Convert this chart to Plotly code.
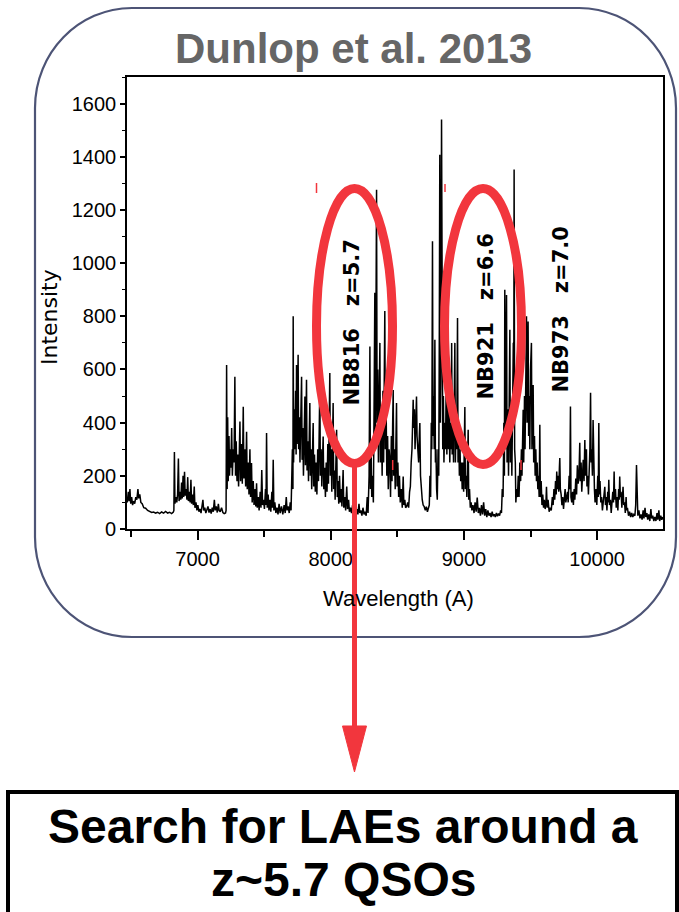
import plotly.graph_objects as go

# ---------------- data ----------------
# Sky emission spectrum: (wavelength [A], intensity)
seg_6500 = [(6472,100),(6480,140),(6486,105),(6492,150),(6498,95),(6505,120),(6512,90),(6520,105),(6528,95),(6536,120),
            (6544,110),(6552,150),(6558,115),(6566,130),(6574,100),(6584,95),(6596,80),(6610,78),(6625,70),(6640,66),
            (6655,62),(6670,64),(6685,60),(6700,63),(6715,58),(6730,64),(6745,60),(6760,66),(6775,60),(6790,63),
            (6805,58),(6818,64)]
seg_6900 = [(6822,70),(6826,290),(6830,95),(6838,120),(6844,100),(6850,130),(6856,265),(6861,105),(6868,140),(6874,110),
            (6880,175),(6885,115),(6891,200),(6896,120),(6902,215),(6907,125),(6914,150),(6920,110),(6926,195),(6931,105),
            (6938,140),(6944,100),(6950,185),(6955,95),(6962,130),(6968,90),(6975,160),(6980,80),(6988,100),(6995,70),
            (7002,90),(7010,65),(7018,75),(7026,60),(7034,85),(7040,110),(7046,70),(7054,80),(7062,60),(7070,70),
            (7078,85),(7086,62),(7094,75),(7102,58),(7110,80),(7118,65),(7126,110),(7132,70),(7140,85),(7148,62),
            (7156,95),(7162,70),(7170,65),(7180,80),(7190,62),(7200,58),(7210,60),(7214,70)]
seg_7400 = [(7218,617),(7222,150),(7226,420),(7230,180),(7236,350),(7240,200),(7246,300),(7250,230),(7256,380),(7261,200),
            (7268,300),(7274,250),(7280,573),(7285,200),(7290,330),(7296,180),(7302,280),(7308,160),(7318,404),(7323,180),
            (7330,320),(7336,170),(7343,460),(7348,190),(7355,300),(7361,160),(7368,366),(7373,150),(7380,250),(7386,130),
            (7393,300),(7398,120),(7405,248),(7410,100),(7418,180),(7424,90),(7432,150),(7437,85),(7443,172),(7448,80),
            (7456,120),(7462,70),(7470,140),(7476,80),(7482,222),(7488,90),(7496,110),(7502,75),(7510,150),(7514,90),
            (7518,361),(7523,80),(7530,130),(7536,70),(7544,110),(7550,65),(7558,140),(7563,80),(7568,260),(7573,70),
            (7580,100),(7588,60),(7596,80),(7604,55),(7612,95),(7620,60),(7630,85),(7640,55),(7650,90),(7658,60),
            (7666,120),(7672,70),(7680,85),(7688,60),(7696,100),(7702,70),(7708,200)]
seg_7900 = [(7712,300),(7716,150),(7718,800),(7721,250),(7726,450),(7731,300),(7736,520),(7740,280),(7743,617),(7747,320),
            (7751,480),(7755,655),(7759,300),(7764,420),(7769,250),(7775,500),(7781,573),(7785,260),(7790,380),(7795,200),
            (7800,430),(7806,498),(7810,240),(7814,380),(7818,561),(7822,220),(7828,330),(7833,180),(7838,400),(7843,474),
            (7847,200),(7852,300),(7857,150),(7862,330),(7868,399),(7872,160),(7878,280),(7884,140),(7890,250),(7896,130),
            (7902,300),(7908,180),(7913,420),(7918,536),(7922,200),(7928,300),(7933,160),(7938,260),(7943,348),(7948,150),
            (7954,230),(7960,120),(7966,250),(7972,140),(7978,320),(7983,170),(7988,380),(7993,587),(7997,200),(8003,300),
            (8008,140),(8013,350),(8018,474),(8022,150),(8028,220),(8033,110),(8039,260),(8044,373),(8049,120),(8055,180),
            (8060,95),(8066,200),(8072,100),(8078,150),(8084,85),(8093,222),(8098,80),(8105,120),(8112,70),(8120,160),
            (8126,75),(8134,110),(8140,65)]
seg_8200 = [(8148,80),(8156,60),(8164,90),(8172,55),(8180,70),(8188,50),(8196,75),(8204,55),(8212,95),(8218,60),
            (8226,70),(8234,50),(8242,80),(8250,55),(8258,65),(8266,50),(8274,120),(8280,60),(8288,200)]
seg_8400 = [(8294,686),(8298,150),(8303,300),(8308,120),(8314,200),(8320,100),(8326,500),(8331,889),(8335,300),(8340,800),
            (8344,1276),(8348,400),(8353,600),(8358,250),(8363,500),(8369,700),(8373,250),(8380,400),(8386,200),(8392,520),
            (8397,250),(8402,600),(8406,820),(8410,300),(8416,450),(8421,200),(8427,350),(8432,150),(8438,300),(8444,260),
            (8449,120),(8455,350),(8460,180),(8465,400),(8469,523),(8473,200),(8479,300),(8484,150),(8490,380),(8494,474),
            (8498,160),(8504,250),(8510,120),(8516,200),(8522,100),(8530,150),(8537,80),(8544,197),(8549,90),(8556,110),
            (8562,80)]
seg_8650 = [(8570,85),(8578,100),(8585,80),(8592,140),(8598,160),(8604,250),(8610,300),(8616,420),(8619,486),(8623,380),
            (8628,450),(8633,300),(8638,420),(8644,498),(8648,350),(8654,300),(8660,250),(8665,350),(8669,399),(8674,200),
            (8680,150),(8687,110),(8694,90),(8702,84),(8710,70),(8718,84),(8726,65),(8734,80),(8740,90),(8745,200),
            (8750,120),(8755,400)]
seg_8900 = [(8759,300),(8764,1082),(8768,350),(8772,500),(8777,300),(8782,712),(8786,250),(8790,300),(8795,150),(8800,110),
            (8806,300),(8811,200),(8815,700),(8819,1408),(8823,400),(8827,600),(8832,1540),(8836,400),(8841,300),(8846,500),
            (8850,250),(8856,400),(8862,300),(8867,550),(8872,280),(8876,480),(8880,798),(8884,300),(8889,450),(8894,250),
            (8899,400),(8904,300),(8908,700),(8912,280),(8918,400),(8922,250),(8927,500),(8932,700),(8936,250),(8941,400),
            (8946,300),(8952,794),(8956,250),(8961,350),(8966,200),(8971,300),(8976,180),(8982,250),(8987,150),(8993,250),
            (8998,140),(9003,300),(9007,459),(9011,150),(9017,200),(9022,120),(9027,250),(9032,373),(9036,110),(9042,150),
            (9048,80),(9054,100)]
seg_9150 = [(9060,70),(9068,90),(9076,60),(9084,100),(9092,65),(9100,118),(9108,60),(9116,80),(9124,50),(9132,90),
            (9140,55),(9148,100),(9156,50),(9164,75),(9172,45),(9180,70),(9188,50),(9196,60),(9204,45),(9212,65),
            (9220,48),(9228,55),(9236,45),(9244,60),(9252,48),(9260,58),(9268,50),(9276,70),(9282,60),(9288,150),
            (9294,120)]
seg_9450 = [(9300,400),(9304,200),(9307,900),(9311,300),(9316,500),(9320,880),(9324,250),(9330,450),(9335,200),(9340,500),
            (9345,749),(9349,250),(9355,400),(9360,200),(9366,500),(9371,700),(9374,400),(9377,1352),(9381,300),(9386,250),
            (9390,100),(9396,150),(9402,120),(9408,200),(9414,120),(9420,250),(9426,180),(9432,300),(9436,200),(9440,350),
            (9445,448),(9449,250),(9455,500),(9459,300),(9465,600),(9470,800),(9474,400),(9478,500),(9482,780),(9486,350),
            (9491,500),(9495,300),(9500,600),(9507,700),(9511,300),(9515,450),(9520,542),(9524,250),(9530,350),(9535,200),
            (9540,300),(9545,180),(9550,250),(9555,150),(9560,200),(9565,120),(9570,392),(9574,120),(9580,180),(9586,90),
            (9592,130),(9598,80),(9604,110),(9610,75),(9616,100),(9620,159),(9625,80),(9632,110),(9640,65),(9648,80)]
seg_9800 = [(9656,70),(9664,120),(9670,90),(9676,150),(9682,110),(9688,180),(9693,130),(9697,216),(9702,150),(9708,200),
            (9712,140),(9717,230),(9720,267),(9724,150),(9730,130),(9736,90),(9742,120),(9748,75),(9755,130),(9760,150),
            (9765,100),(9772,120),(9778,140),(9783,100),(9790,200),(9795,150),(9800,461),(9804,120),(9810,100),(9816,140),
            (9822,90),(9828,150),(9833,110),(9840,190),(9846,130),(9852,240),(9858,170),(9864,200),(9870,324),(9874,180),
            (9880,250),(9885,140),(9890,200),(9896,260),(9902,180),(9908,335),(9912,200),(9916,260),(9920,300),(9924,160),
            (9930,200),(9935,130),(9940,220),(9946,300),(9951,512),(9955,250),(9960,300),(9965,200),(9970,410),(9974,180),
            (9980,150),(9985,100),(9992,150),(9998,90)]
seg_10200 = [(10005,200),(10009,120),(10013,399),(10017,130),(10022,180),(10028,100),(10034,120),(10040,70),(10046,100),(10052,130),
             (10058,159),(10063,90),(10068,120),(10074,70),(10080,140),(10084,100),(10088,185),(10093,90),(10100,110),(10106,60),
             (10112,110),(10118,140),(10123,100),(10128,216),(10132,110),(10138,150),(10144,80),(10150,120),(10156,70),(10162,150),
             (10166,110),(10170,197),(10175,120),(10180,140),(10186,80),(10192,130),(10195,159),(10200,90),(10206,100),(10212,60),
             (10218,120),(10222,70),(10228,80),(10236,50),(10244,65),(10252,45),(10260,60),(10268,45),(10276,55),(10284,50),
             (10290,90),(10296,241),(10300,80),(10306,50),(10314,70),(10322,40),(10330,55),(10338,35),(10346,70),(10352,40),
             (10360,80),(10366,45),(10374,60),(10380,35),(10388,55),(10396,30),(10404,75),(10410,40),(10418,50),(10426,30),
             (10434,45),(10442,30),(10450,60),(10456,35),(10464,70),(10470,30),(10478,50),(10486,35),(10494,45)]

segments = [seg_6500, seg_6900, seg_7400, seg_7900, seg_8200, seg_8400, seg_8650,
            seg_8900, seg_9150, seg_9450, seg_9800, seg_10200]
wavelength = [p[0] for s in segments for p in s]
intensity = [p[1] for s in segments for p in s]

x_range = [6470, 10495]
y_range = [0, 1700]
x_tickvals = [7000, 8000, 9000, 10000]
y_tickvals = [0, 200, 400, 600, 800, 1000, 1200, 1400, 1600]

filter_labels = ["NB816\u00a0\u00a0\u00a0z=5.7", "NB921\u00a0\u00a0\u00a0z=6.6", "NB973\u00a0\u00a0\u00a0z=7.0"]
title_text = "Dunlop et al. 2013"
box_lines = ["Search for LAEs around a", "z~5.7 QSOs"]

# ---------------- layout helpers ----------------
W, H = 679, 912
PL, PR, PT, PB = 127, 663, 77, 529   # plot area in pixels
RED = "#f2363d"
FRAME = "#4d5476"


def xp(px):
    return (px - PL) / (PR - PL)


def yp(py):
    return (PB - py) / (PB - PT)


def P(px, py):
    return f"{xp(px):.5f},{yp(py):.5f}"


def rounded_rect_path(x0, y0, x1, y1, rx, ry):
    k = 0.5523
    return (f"M {P(x0 + rx, y0)} L {P(x1 - rx, y0)} "
            f"C {P(x1 - rx + rx * k, y0)} {P(x1, y0 + ry - ry * k)} {P(x1, y0 + ry)} "
            f"L {P(x1, y1 - ry)} "
            f"C {P(x1, y1 - ry + ry * k)} {P(x1 - rx + rx * k, y1)} {P(x1 - rx, y1)} "
            f"L {P(x0 + rx, y1)} "
            f"C {P(x0 + rx - rx * k, y1)} {P(x0, y1 - ry + ry * k)} {P(x0, y1 - ry)} "
            f"L {P(x0, y0 + ry)} "
            f"C {P(x0, y0 + ry - ry * k)} {P(x0 + rx - rx * k, y0)} {P(x0 + rx, y0)} Z")


fig = go.Figure()
fig.add_trace(go.Scatter(x=wavelength, y=intensity, mode="lines",
                         line=dict(color="black", width=1.5), hoverinfo="skip",
                         showlegend=False))

shapes = []
# rounded frame around the chart
shapes.append(dict(type="path", xref="paper", yref="paper", layer="above",
                   path=rounded_rect_path(35, 8, 676, 637, 97, 100),
                   line=dict(color=FRAME, width=2.2)))
# ellipses
for (x0, x1, y0, y1) in [(316.5, 392.5, 188.5, 463.5), (444.5, 521.5, 188.5, 464.5)]:
    shapes.append(dict(type="circle", xref="paper", yref="paper", layer="above",
                       x0=xp(x0), x1=xp(x1), y0=yp(y1), y1=yp(y0),
                       line=dict(color=RED, width=9)))
# arrow shaft and head
shapes.append(dict(type="line", xref="paper", yref="paper", layer="above",
                   x0=xp(354.5), x1=xp(354.5), y0=yp(467), y1=yp(730),
                   line=dict(color=RED, width=5)))
shapes.append(dict(type="path", xref="paper", yref="paper", layer="above",
                   path=f"M {P(342.5, 726)} L {P(366.5, 726)} L {P(354.5, 772)} Z",
                   fillcolor=RED, line=dict(color=RED, width=1)))
# small red marks
for (mx, my0, my1) in [(316.5, 183, 193), (445, 184, 192), (392.7, 460, 470), (521, 460, 470)]:
    shapes.append(dict(type="line", xref="paper", yref="paper", layer="above",
                       x0=xp(mx), x1=xp(mx), y0=yp(my1), y1=yp(my0),
                       line=dict(color=RED, width=1.5)))
# bottom text box
shapes.append(dict(type="rect", xref="paper", yref="paper", layer="above",
                   x0=xp(8), x1=xp(677), y0=yp(935), y1=yp(792),
                   line=dict(color="black", width=4), fillcolor="rgba(0,0,0,0)"))

annotations = []
annotations.append(dict(text=f"<b>{title_text}</b>", xref="paper", yref="paper", x=xp(353), y=yp(48),
                        showarrow=False, xanchor="center", yanchor="middle",
                        font=dict(family="Liberation Sans, Arial, sans-serif", size=42, color="#666666")))
annotations.append(dict(text="Intensity", xref="paper", yref="paper", x=xp(49), y=yp(317),
                        showarrow=False, xanchor="center", yanchor="middle", textangle=-90,
                        font=dict(family="DejaVu Sans, sans-serif", size=22, color="black")))
annotations.append(dict(text="Wavelength (A)", xref="paper", yref="paper", x=xp(398), y=yp(598),
                        showarrow=False, xanchor="center", yanchor="middle",
                        font=dict(family="Liberation Sans, Arial, sans-serif", size=22, color="black")))
for label, (cx, cy) in zip(filter_labels, [(351.5, 323), (485, 316.5), (560.5, 310)]):
    annotations.append(dict(text=label, xref="paper", yref="paper", x=xp(cx), y=yp(cy),
                            showarrow=False, xanchor="center", yanchor="middle", textangle=-90,
                            font=dict(family="DejaVu Sans, sans-serif", size=21, color="black", weight="bold")))
for line_text, cy in zip(box_lines, [826, 879]):
    annotations.append(dict(text=f"<b>{line_text}</b>", xref="paper", yref="paper", x=xp(343), y=yp(cy),
                            showarrow=False, xanchor="center", yanchor="middle",
                            font=dict(family="Liberation Sans, Arial, sans-serif", size=48, color="black")))

fig.update_layout(
    width=W, height=H,
    margin=dict(l=PL, r=W - PR, t=PT, b=H - PB, pad=0),
    paper_bgcolor="white", plot_bgcolor="white",
    showlegend=False,
    shapes=shapes, annotations=annotations,
    font=dict(family="Liberation Sans, Arial, sans-serif", color="black"),
)
fig.update_xaxes(range=x_range, tickvals=x_tickvals, ticktext=[str(v) for v in x_tickvals],
                 showgrid=False, zeroline=False, showline=True, linecolor="black", linewidth=1.6,
                 mirror=True, ticks="outside", ticklen=9, tickwidth=1.5, tickcolor="black",
                 tickfont=dict(size=20, color="black"), ticklabelstandoff=2,
                 minor=dict(dtick=500, tick0=6500, ticks="outside", ticklen=6, tickwidth=1.5, tickcolor="black"))
fig.update_yaxes(range=y_range, tickvals=y_tickvals, ticktext=[str(v) for v in y_tickvals],
                 showgrid=False, zeroline=False, showline=True, linecolor="black", linewidth=1.6,
                 mirror=True, ticks="outside", ticklen=5, tickwidth=1.5, tickcolor="black",
                 tickfont=dict(size=20, color="black"), ticklabelstandoff=0,
                 minor=dict(dtick=100, tick0=0, ticks="outside", ticklen=3, tickwidth=1.2, tickcolor="black"))

fig.write_html("out.html")
